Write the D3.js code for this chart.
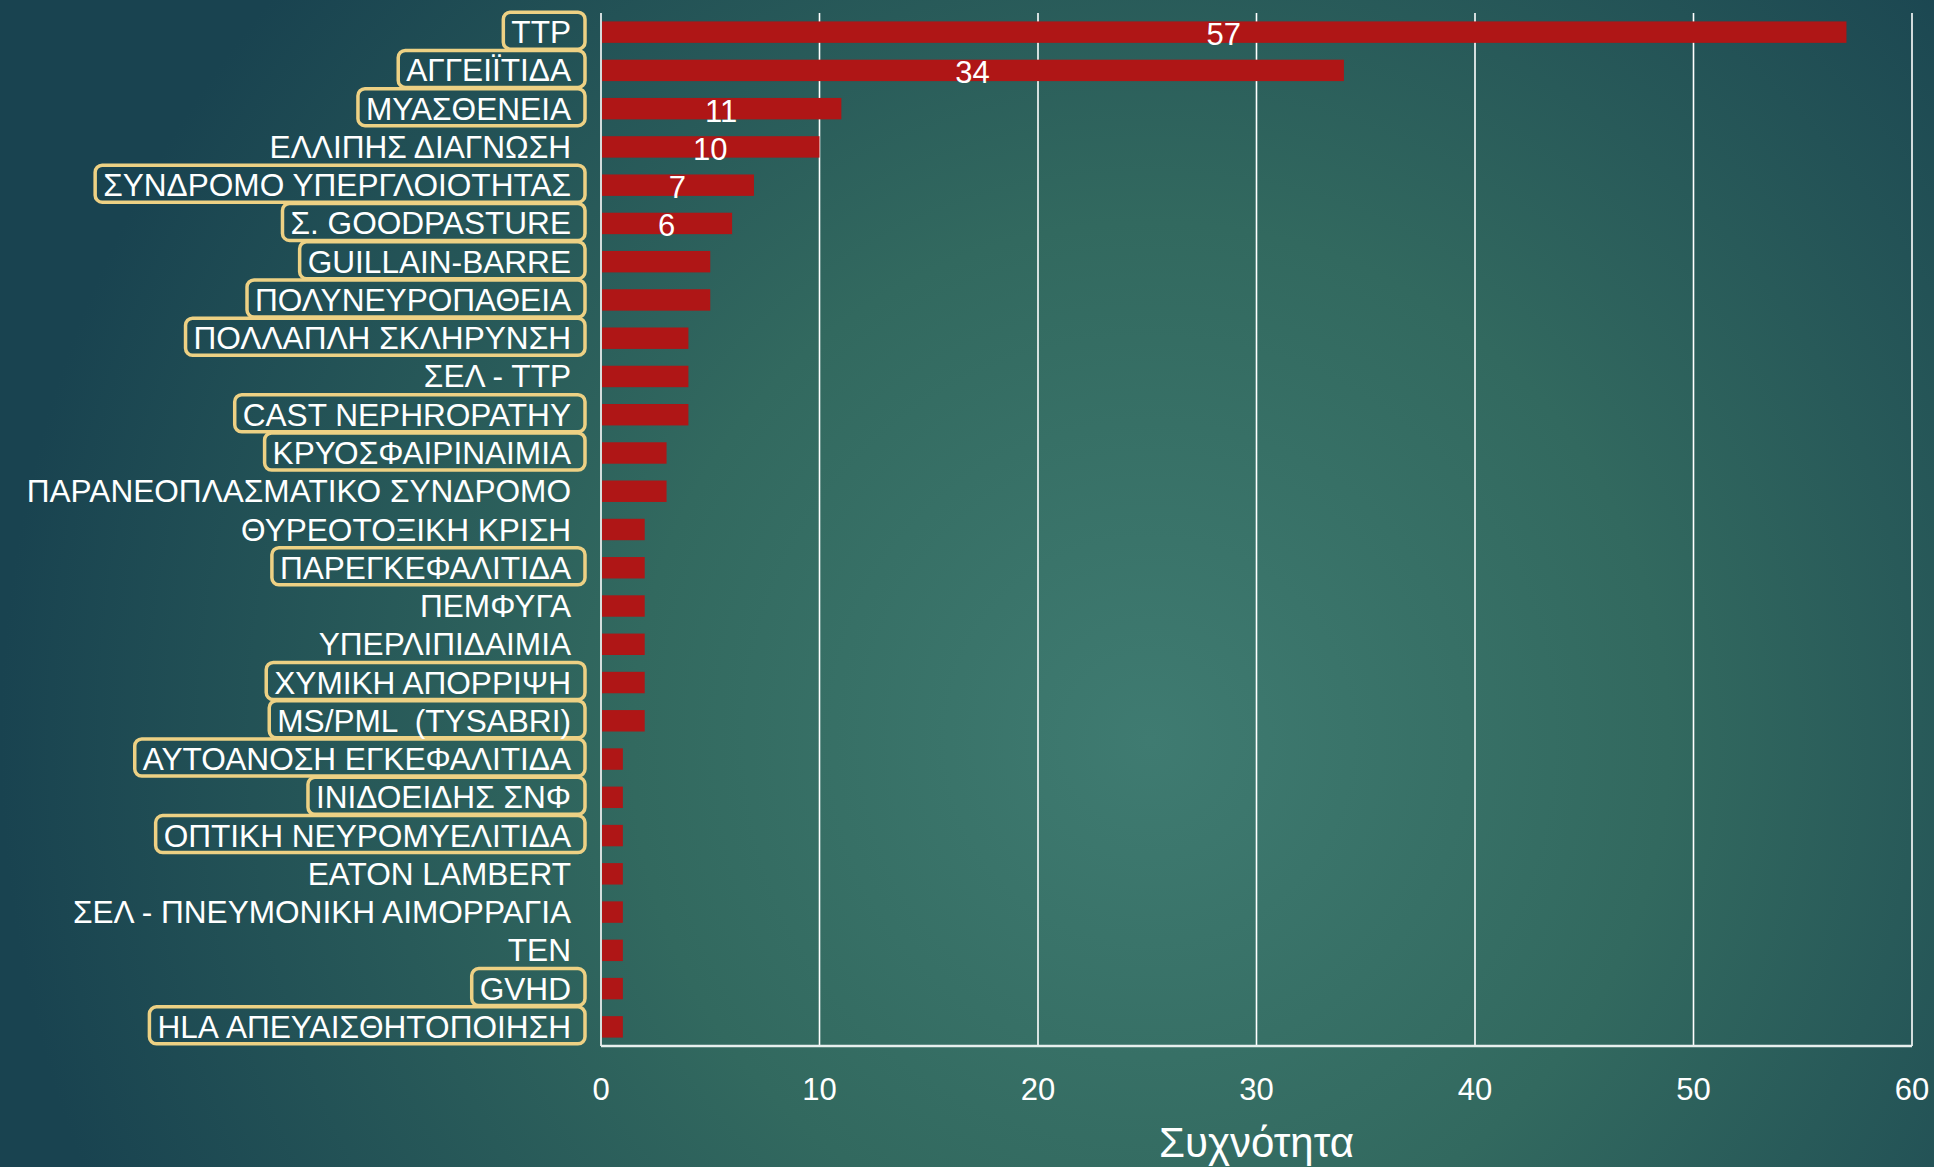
<!DOCTYPE html>
<html>
<head>
<meta charset="utf-8">
<script src="https://cdn.jsdelivr.net/npm/d3@7"></script>
<style>
  html, body { margin: 0; padding: 0; overflow: hidden; }
  svg { display: block; }
  text { font-family: "Liberation Sans", Arial, sans-serif; fill: #ffffff; }
</style>
</head>
<body>
<script>
// ---- data ----
const categories = [
  "TTP", "ΑΓΓΕΙΪΤΙΔΑ", "ΜΥΑΣΘΕΝΕΙΑ", "ΕΛΛΙΠΗΣ ΔΙΑΓΝΩΣΗ", "ΣΥΝΔΡΟΜΟ ΥΠΕΡΓΛΟΙΟΤΗΤΑΣ",
  "Σ. GOODPASTURE", "GUILLAIN-BARRE", "ΠΟΛΥΝΕΥΡΟΠΑΘΕΙΑ", "ΠΟΛΛΑΠΛΗ ΣΚΛΗΡΥΝΣΗ", "ΣΕΛ - ΤΤΡ",
  "CAST NEPHROPATHY", "ΚΡΥΟΣΦΑΙΡΙΝΑΙΜΙΑ", "ΠΑΡΑΝΕΟΠΛΑΣΜΑΤΙΚΟ ΣΥΝΔΡΟΜΟ", "ΘΥΡΕΟΤΟΞΙΚΗ ΚΡΙΣΗ",
  "ΠΑΡΕΓΚΕΦΑΛΙΤΙΔΑ", "ΠΕΜΦΥΓΑ", "ΥΠΕΡΛΙΠΙΔΑΙΜΙΑ", "ΧΥΜΙΚΗ ΑΠΟΡΡΙΨΗ", "MS/PML  (TYSABRI)",
  "ΑΥΤΟΑΝΟΣΗ ΕΓΚΕΦΑΛΙΤΙΔΑ", "ΙΝΙΔΟΕΙΔΗΣ ΣΝΦ", "ΟΠΤΙΚΗ ΝΕΥΡΟΜΥΕΛΙΤΙΔΑ", "EATON LAMBERT",
  "ΣΕΛ - ΠΝΕΥΜΟΝΙΚΗ ΑΙΜΟΡΡΑΓΙΑ", "ΤΕΝ", "GVHD", "HLA ΑΠΕΥΑΙΣΘΗΤΟΠΟΙΗΣΗ"
];
const values = [57, 34, 11, 10, 7, 6, 5, 5, 4, 4, 4, 3, 3, 2, 2, 2, 2, 2, 2, 1, 1, 1, 1, 1, 1, 1, 1];
const boxed = [
  "TTP", "ΑΓΓΕΙΪΤΙΔΑ", "ΜΥΑΣΘΕΝΕΙΑ", "ΣΥΝΔΡΟΜΟ ΥΠΕΡΓΛΟΙΟΤΗΤΑΣ", "Σ. GOODPASTURE", "GUILLAIN-BARRE",
  "ΠΟΛΥΝΕΥΡΟΠΑΘΕΙΑ", "ΠΟΛΛΑΠΛΗ ΣΚΛΗΡΥΝΣΗ", "CAST NEPHROPATHY", "ΚΡΥΟΣΦΑΙΡΙΝΑΙΜΙΑ", "ΠΑΡΕΓΚΕΦΑΛΙΤΙΔΑ",
  "ΧΥΜΙΚΗ ΑΠΟΡΡΙΨΗ", "MS/PML  (TYSABRI)", "ΑΥΤΟΑΝΟΣΗ ΕΓΚΕΦΑΛΙΤΙΔΑ", "ΙΝΙΔΟΕΙΔΗΣ ΣΝΦ",
  "ΟΠΤΙΚΗ ΝΕΥΡΟΜΥΕΛΙΤΙΔΑ", "GVHD", "HLA ΑΠΕΥΑΙΣΘΗΤΟΠΟΙΗΣΗ"
];
const labelledMin = 6;            // data labels shown for these values and above
const xTicks = [0, 10, 20, 30, 40, 50, 60];
const xTitle = "Συχνότητα";

// ---- layout ----
const W = 1934, H = 1167;
const plot = { left: 601, right: 1912, top: 13, bottom: 1046 };

const svg = d3.select("body").append("svg").attr("width", W).attr("height", H);

const defs = svg.append("defs");
const grad = defs.append("radialGradient").attr("id", "bg")
  .attr("gradientUnits", "userSpaceOnUse")
  .attr("cx", 1150).attr("cy", 740).attr("r", 1150);
grad.append("stop").attr("offset", "0%").attr("stop-color", "#3f7b71");
grad.append("stop").attr("offset", "45%").attr("stop-color", "#32695f");
grad.append("stop").attr("offset", "100%").attr("stop-color", "#194350");
svg.append("rect").attr("width", W).attr("height", H).attr("fill", "url(#bg)");

const x = d3.scaleLinear().domain([0, 60]).range([plot.left, plot.right]);
const y = d3.scaleBand().domain(categories).range([plot.top, plot.bottom])
  .paddingInner(0.44).paddingOuter(0.22);
const rowC = c => y(c) + y.bandwidth() / 2;

// gridlines
svg.append("g").selectAll("line").data(xTicks).join("line")
  .attr("x1", d => x(d)).attr("x2", d => x(d))
  .attr("y1", plot.top).attr("y2", plot.bottom)
  .attr("stroke", "#ffffff").attr("stroke-width", 1.6);

// bottom axis line
svg.append("line").attr("x1", x(0)).attr("x2", x(60))
  .attr("y1", plot.bottom).attr("y2", plot.bottom)
  .attr("stroke", "#e8efee").attr("stroke-width", 2.5);

// bars
svg.append("g").selectAll("rect").data(categories).join("rect")
  .attr("x", x(0) + 1)
  .attr("y", c => y(c))
  .attr("width", (c, i) => x(values[i]) - x(0) - 1)
  .attr("height", y.bandwidth())
  .attr("fill", "#af1616");

// data labels
svg.append("g").selectAll("text").data(categories.filter((c, i) => values[i] >= labelledMin)).join("text")
  .attr("x", c => x(values[categories.indexOf(c)] / 2))
  .attr("y", c => rowC(c) + 13)
  .attr("text-anchor", "middle")
  .attr("font-size", 31)
  .text(c => values[categories.indexOf(c)]);

// category labels + boxes
const labG = svg.append("g");
const boxG = labG.append("g");
const labels = labG.selectAll("text").data(categories).join("text")
  .attr("x", plot.left - 30)
  .attr("y", c => rowC(c) + 11)
  .attr("text-anchor", "end")
  .attr("font-size", 31.6)
  .attr("xml:space", "preserve")
  .style("white-space", "pre")
  .text(c => c);

labels.each(function (c) {
  if (!boxed.includes(c)) return;
  const b = this.getBBox();
  const x0 = b.x - 8, x1 = plot.left - 16;
  boxG.append("rect")
    .attr("x", x0).attr("y", rowC(c) - 20)
    .attr("width", x1 - x0).attr("height", 37)
    .attr("rx", 7).attr("ry", 7)
    .attr("fill", "none")
    .attr("stroke", "#edd184").attr("stroke-width", 3.5);
});

// x tick labels
svg.append("g").selectAll("text").data(xTicks).join("text")
  .attr("x", d => x(d)).attr("y", 1100)
  .attr("text-anchor", "middle").attr("font-size", 31)
  .text(d => d);

// axis title
svg.append("text")
  .attr("x", (plot.left + plot.right) / 2).attr("y", 1157)
  .attr("text-anchor", "middle").attr("font-size", 42)
  .text(xTitle);
</script>
</body>
</html>
